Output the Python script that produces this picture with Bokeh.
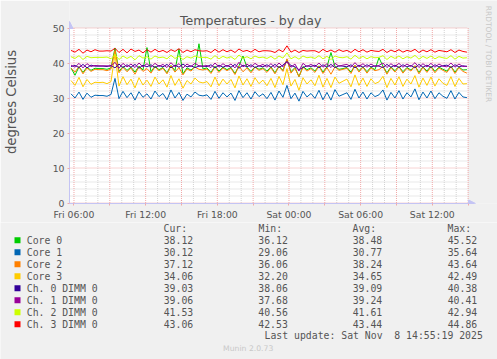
import numpy as np
from math import pi
from bokeh.plotting import figure
from bokeh.models import Range1d, FixedTicker, Arrow, NormalHead, LinearAxis
from bokeh.layouts import column
from bokeh.core.properties import value
from bokeh.embed import file_html
from bokeh.resources import INLINE

# ---------------- data ----------------
series_names = ["Core 0", "Core 1", "Core 2", "Core 3",
                "Ch. 0 DIMM 0", "Ch. 1 DIMM 0", "Ch. 2 DIMM 0", "Ch. 3 DIMM 0"]
series_colors = ["#00CC00", "#0066B3", "#FF8000", "#FFCC00",
                 "#330099", "#990099", "#CCFF00", "#FF0000"]

core0 = [38.6,36.5,38.9,37.3,38.8,37.9,38.5,38.4,38.4,38.2,
         38.6,44.3,37.6,39.0,37.9,38.8,37.4,39.1,38.0,44.4,
         37.5,39.1,38.1,38.7,37.2,39.3,37.8,44.0,36.9,38.6,
         38.0,38.9,45.5,38.3,38.6,37.3,39.1,37.7,38.8,38.1,
         38.7,37.0,39.2,42.0,38.8,37.6,38.9,38.2,38.6,37.7,
         38.9,37.2,39.1,37.9,41.0,37.5,38.7,36.1,39.0,38.1,
         38.6,37.7,39.2,37.4,38.9,43.0,39.0,38.2,38.4,38.7,
         37.4,39.3,37.8,38.9,37.5,38.8,38.1,41.5,39.1,37.2,
         38.9,37.8,39.0,37.5,38.7,38.0,39.2,37.3,38.9,37.7,
         39.1,37.6,38.8,38.2,37.7,39.1,37.4,38.8,38.0,38.1]
core1 = [31.2,30.0,31.7,29.6,31.4,30.2,30.8,30.7,30.7,30.5,
         31.0,35.6,29.8,31.9,30.1,31.5,29.4,31.8,30.2,31.2,
         29.7,32.0,30.4,31.3,29.5,32.3,30.0,31.6,29.3,31.1,
         30.3,31.7,30.8,30.6,30.9,29.6,31.9,29.9,31.5,30.3,
         31.4,29.3,32.1,30.1,31.5,29.7,31.8,30.4,31.2,29.8,
         31.6,29.4,32.0,30.2,33.6,29.8,31.4,29.1,31.9,30.3,
         31.3,29.9,32.2,29.5,31.6,29.4,32.4,30.5,31.0,31.5,
         29.6,32.5,30.0,31.7,29.7,31.5,30.4,30.9,32.3,29.4,
         31.6,30.0,32.1,29.7,31.5,30.3,32.6,29.5,31.7,30.0,
         32.0,29.8,31.5,30.5,29.9,32.1,29.7,31.6,30.3,30.1]
core2 = [38.5,37.4,39.0,36.9,38.6,37.6,38.2,38.1,38.1,37.8,
         38.3,43.6,37.2,38.8,37.5,38.6,36.8,38.9,37.6,38.4,
         37.1,38.9,37.8,38.5,36.9,39.2,37.4,38.7,36.6,38.3,
         37.7,38.8,38.2,38.0,38.3,37.0,38.9,37.3,38.6,37.8,
         38.5,36.7,39.1,37.5,38.6,37.2,38.8,37.9,38.4,37.3,
         38.7,36.9,39.0,37.6,41.2,37.1,38.5,36.1,38.8,37.7,
         38.4,37.3,39.1,37.0,38.7,36.8,38.9,37.9,38.2,38.5,
         37.0,39.3,37.4,38.8,37.1,38.6,37.8,38.1,39.0,36.8,
         38.7,37.4,38.9,37.1,38.5,37.7,39.2,36.9,38.8,37.3,
         38.9,37.2,38.6,37.9,37.3,39.0,37.0,38.7,37.6,37.1]
core3 = [35.0,33.6,35.9,33.2,35.3,33.9,34.5,34.4,34.5,34.1,
         34.7,42.5,33.4,36.1,33.8,35.4,32.9,35.8,33.7,35.1,
         33.3,36.0,34.0,35.2,33.1,36.4,33.6,35.5,32.8,35.0,
         34.0,35.7,34.6,34.3,34.7,33.2,36.0,33.5,35.4,34.0,
         35.3,32.9,36.3,33.7,35.5,33.3,35.8,34.1,35.1,33.5,
         35.6,33.0,36.2,33.8,38.4,33.4,35.3,32.2,35.8,34.0,
         35.2,33.5,36.5,33.1,35.6,33.0,36.0,34.2,34.8,35.4,
         33.2,36.6,33.6,35.7,33.3,35.5,34.1,34.6,36.2,33.0,
         35.6,33.7,36.1,33.3,35.4,34.0,36.4,33.1,35.7,33.6,
         36.0,33.4,35.5,34.2,33.6,36.1,33.3,35.6,34.0,34.1]
dimm0 = [39.0,39.3,38.7,39.6,38.6,39.4,39.1,39.1,39.1,39.0,
         39.3,38.6,39.7,38.7,39.5,38.8,39.6,38.5,39.4,38.9,
         39.5,38.7,39.3,38.9,39.6,38.6,39.4,38.8,39.7,38.9,
         39.2,38.7,39.1,39.1,39.0,39.5,38.6,39.4,38.8,39.3,
         38.8,39.6,38.5,39.4,38.9,39.5,38.7,39.2,38.9,39.5,
         38.8,39.6,38.7,39.4,40.4,39.3,38.9,38.1,38.7,39.2,
         39.0,39.4,38.6,39.5,38.8,39.6,38.7,39.2,39.1,38.9,
         39.5,38.6,39.4,38.8,39.5,38.9,39.2,39.1,38.7,39.6,
         38.8,39.4,38.7,39.5,38.9,39.3,38.6,39.6,38.8,39.4,
         38.7,39.5,38.9,39.2,39.4,38.7,39.5,38.9,39.2,39.0]
dimm1 = [39.4,38.8,39.9,38.6,39.8,39.0,39.3,39.2,39.2,39.2,
         39.1,40.2,38.5,39.9,38.9,39.7,38.7,40.0,38.9,39.8,
         38.8,39.9,39.0,39.6,38.7,40.1,38.9,39.8,38.6,39.7,
         39.0,39.9,39.2,39.1,39.3,38.7,40.0,38.8,39.8,39.0,
         39.7,38.6,40.2,38.9,39.7,38.8,39.9,39.1,39.6,38.8,
         39.8,38.7,40.0,38.9,40.4,38.8,39.7,37.7,39.9,39.0,
         39.6,38.9,40.0,38.8,39.8,38.7,39.9,39.1,39.4,39.6,
         38.8,40.1,38.9,39.8,38.8,39.7,39.0,39.3,40.0,38.7,
         39.8,38.9,39.9,38.8,39.7,39.0,40.1,38.7,39.8,38.9,
         39.9,38.8,39.7,39.1,38.9,40.0,38.8,39.7,39.0,39.1]
dimm2 = [41.8,41.3,42.1,41.0,41.9,41.5,41.6,41.6,41.6,41.7,
         41.2,42.4,41.0,42.0,41.3,41.9,40.9,42.1,41.4,41.8,
         41.1,42.0,41.5,41.7,41.2,42.2,41.3,41.9,41.0,41.8,
         41.4,42.0,41.6,41.6,41.6,41.1,42.1,41.2,41.9,41.4,
         41.8,41.0,42.3,41.3,41.8,41.2,42.0,41.5,41.7,41.3,
         41.9,41.1,42.0,41.4,42.9,41.2,41.8,41.1,42.0,41.5,
         41.7,41.3,42.1,41.2,41.9,41.0,42.0,41.6,41.5,41.8,
         41.1,42.2,41.3,41.9,41.2,41.8,41.5,41.6,42.1,41.0,
         41.9,41.3,42.0,41.2,41.8,41.4,42.2,41.1,41.9,41.3,
         42.0,41.2,41.8,41.5,41.3,42.1,41.1,41.9,41.4,41.5]
dimm3 = [43.6,43.1,43.9,42.8,43.7,43.2,43.8,43.4,43.4,43.5,
         43.4,44.2,43.0,43.9,42.9,44.0,43.3,43.7,42.9,43.8,
         43.1,43.9,43.2,43.6,43.0,43.8,43.3,44.1,43.0,43.7,
         43.2,43.8,43.5,43.4,43.5,43.0,43.9,43.1,43.8,43.2,
         43.7,43.0,44.0,43.3,43.6,43.1,43.9,43.2,43.5,43.5,
         43.4,43.0,43.8,43.2,44.9,43.1,43.7,43.0,43.6,43.4,
         43.5,43.5,43.0,43.9,43.2,43.7,43.1,43.8,43.3,43.6,
         43.0,43.9,43.2,43.8,43.1,43.6,43.4,43.3,43.9,43.0,
         43.7,43.2,43.8,43.1,43.6,43.3,43.9,43.0,43.7,43.2,
         43.8,43.1,43.6,43.4,43.2,43.8,43.0,43.7,43.3,43.1]

cur_vals = ["38.12", "30.12", "37.12", "34.06", "39.03", "39.06", "41.53", "43.06"]
min_vals = ["36.12", "29.06", "36.06", "32.20", "38.06", "37.68", "40.56", "42.53"]
avg_vals = ["38.48", "30.77", "38.24", "34.65", "39.09", "39.24", "41.61", "43.44"]
max_vals = ["45.52", "35.64", "43.64", "42.49", "40.38", "40.41", "42.94", "44.86"]
stat_headers = ["Cur:", "Min:", "Avg:", "Max:"]

x_tick_hours = [6, 12, 18, 24, 30, 36]      # hours since Fri 00:00
x_tick_labels = ["Fri 06:00", "Fri 12:00", "Fri 18:00", "Sat 00:00", "Sat 06:00", "Sat 12:00"]
y_ticks = [0, 10, 20, 30, 40, 50]

title_text = "Temperatures - by day"
y_label_text = "degrees Celsius"
side_text = "RRDTOOL / TOBI OETIKER"
update_text = "Last update: Sat Nov\u00a0 8 14:55:19 2025"
version_text = "Munin 2.0.73"

all_series = [core0, core1, core2, core3, dimm0, dimm1, dimm2, dimm3]

# ---------------- layout constants ----------------
PX_PER_H = 12.0
PX_PER_DEG = 3.5
T0 = 5.625                     # hours since Fri 00:00 at the left edge of the graph
T1 = T0 + 400 / PX_PER_H
Y1 = 50
hours = np.linspace(5.75, 38.9, len(core0))
BG = "#F0F0F0"
TXT = "#555555"
AX = "#C4C4F4"
MGRID = "#F0A8A8"
GRID = "#D2D2D2"
FONT = "DejaVu Sans"
MONO = "DejaVu Sans Mono"

W, H = 497, 359
AREA_L = 67          # window px of graph's left edge
ZERO_PY = 202.5      # window px of 0 degrees
FRAME_B = 203
MAIN_H = 222
LEG_H = H - MAIN_H


def xw(px):   # window pixel x -> hours
    return T0 + (px - AREA_L) / PX_PER_H


def yw(py):   # window pixel y -> degrees
    return (ZERO_PY - py) / PX_PER_DEG


p = figure(width=W, height=MAIN_H, title=None,
           x_range=Range1d(T0, xw(W)), y_range=Range1d(yw(FRAME_B), yw(0)),
           output_backend="svg", toolbar_location=None,
           min_border_left=AREA_L, min_border_right=0,
           min_border_top=0, min_border_bottom=MAIN_H - FRAME_B,
           background_fill_color=BG, border_fill_color=BG,
           outline_line_color=None, frame_align=False)
p.xgrid.visible = False
p.ygrid.visible = False

# white graph area
p.quad(left=[T0], right=[T1], bottom=[yw(FRAME_B)], top=[Y1],
       fill_color="white", line_color=None)

# grid lines
major_x = list(range(6, 40, 3))
minor_x = [h for h in range(6, 40) if h % 3 != 0]
minor_y = [v for v in range(2, 50, 2) if v % 10 != 0]
p.segment(x0=minor_x, y0=[0] * len(minor_x), x1=minor_x, y1=[Y1] * len(minor_x),
          line_color=GRID, line_dash="1 1", line_width=1)
p.segment(x0=[T0] * len(minor_y), y0=minor_y, x1=[T1] * len(minor_y), y1=minor_y,
          line_color=GRID, line_dash="1 1", line_width=1)
p.segment(x0=major_x, y0=[0] * len(major_x), x1=major_x, y1=[Y1] * len(major_x),
          line_color=MGRID, line_dash="1 1", line_width=1)
p.segment(x0=[T0] * len(y_ticks), y0=y_ticks, x1=[T1] * len(y_ticks), y1=y_ticks,
          line_color=MGRID, line_dash="1 1", line_width=1)

# axes
p.xaxis.ticker = FixedTicker(ticks=major_x)
overrides = {h: "" for h in major_x}
for h, lab in zip(x_tick_hours, x_tick_labels):
    overrides[h] = lab
p.xaxis.major_label_overrides = overrides
p.xaxis.bounds = (T0, xw(474))
p.yaxis.ticker = FixedTicker(ticks=y_ticks)
p.yaxis.bounds = (yw(FRAME_B), yw(21))
for ax in (p.xaxis[0], p.yaxis[0]):
    ax.axis_line_color = AX
    ax.major_tick_line_color = MGRID
    ax.major_tick_in = 0
    ax.major_tick_out = 2
    ax.minor_tick_line_color = None
    ax.major_label_text_font = FONT
    ax.major_label_text_font_size = "9.3px"
    ax.major_label_text_color = TXT
    ax.major_label_standoff = 3

# vertical unit label, on its own tick-less axis so it can be centred where rrdtool puts it
label_center = yw(123)
lab_axis = LinearAxis(ticker=FixedTicker(ticks=[]),
                      bounds=(yw(FRAME_B), 2 * label_center - yw(FRAME_B)),
                      axis_line_color=None, major_tick_line_color=None,
                      minor_tick_line_color=None, major_tick_out=0, major_tick_in=0,
                      major_label_standoff=0,
                      axis_label=y_label_text, axis_label_standoff=31,
                      axis_label_text_font=FONT, axis_label_text_font_style="normal",
                      axis_label_text_font_size="13.2px", axis_label_text_color=TXT)
p.add_layout(lab_axis, "left")

# series (drawn in legend order, last on top)
for vals, col in zip(all_series, series_colors):
    p.line(hours, vals, line_color=col, line_width=1)

# axis arrow heads
p.add_layout(Arrow(x_start=T0, y_start=yw(30), x_end=T0, y_end=yw(21),
                   line_alpha=0, end=NormalHead(size=7, fill_color=AX, line_color=AX)))
p.add_layout(Arrow(x_start=xw(466), y_start=yw(FRAME_B), x_end=xw(475), y_end=yw(FRAME_B),
                   line_alpha=0, end=NormalHead(size=7, fill_color=AX, line_color=AX)))

# title and side text
p.text(x=[xw(249)], y=[yw(19.5)], text=[title_text], text_align="center",
       text_baseline="middle", text_font=value(FONT), text_font_size=value("12.6px"),
       text_color=TXT)
p.text(x=[xw(487.5)], y=[yw(53.5)], text=[side_text], angle=-pi / 2,
       text_align="center", text_baseline="middle", text_font=value(FONT),
       text_font_size=value("7.5px"), text_color="#C8C8C8")

# ---------------- legend panel ----------------
q = figure(width=W, height=LEG_H, title=None,
           x_range=Range1d(0, W), y_range=Range1d(LEG_H, 0),
           output_backend="svg", toolbar_location=None, min_border=0,
           x_axis_type=None, y_axis_type=None,
           background_fill_color=BG, border_fill_color=BG, outline_line_color=None,
           frame_align=False)
q.xgrid.visible = False
q.ygrid.visible = False


def ly(py):
    return py - MAIN_H


rows = [ly(239.7 + 12 * k) for k in range(len(series_names))]
mono = dict(text_font=value(MONO), text_font_size=value("9.8px"),
            text_color=TXT, text_baseline="middle")

q.rect(x=[17] * len(rows), y=rows, width=6, height=6,
       fill_color=series_colors, line_color=None)
q.text(x=[26.3] * len(rows), y=rows, text=series_names, text_align="left", **mono)

header_x = [163, 258, 352, 447]
value_right = [192.7, 287.3, 381.7, 476.7]
q.text(x=header_x, y=[ly(227.7)] * 4, text=stat_headers, text_align="left", **mono)
for vals, xr in zip([cur_vals, min_vals, avg_vals, max_vals], value_right):
    q.text(x=[xr] * len(vals), y=rows, text=vals, text_align="right", **mono)

q.text(x=[482.3], y=[ly(335.3)], text=[update_text], text_align="right", **mono)
q.text(x=[247.7], y=[ly(348.3)], text=[version_text], text_align="center",
       text_baseline="middle", text_font=value(FONT), text_font_size=value("7.7px"),
       text_color="#C8C8C8")

layout = column(p, q, spacing=0)
html = file_html(layout, INLINE)
html = html.replace("<body>", '<body style="background-color:#F0F0F0;">', 1)
open("out.html", "w").write(html)
